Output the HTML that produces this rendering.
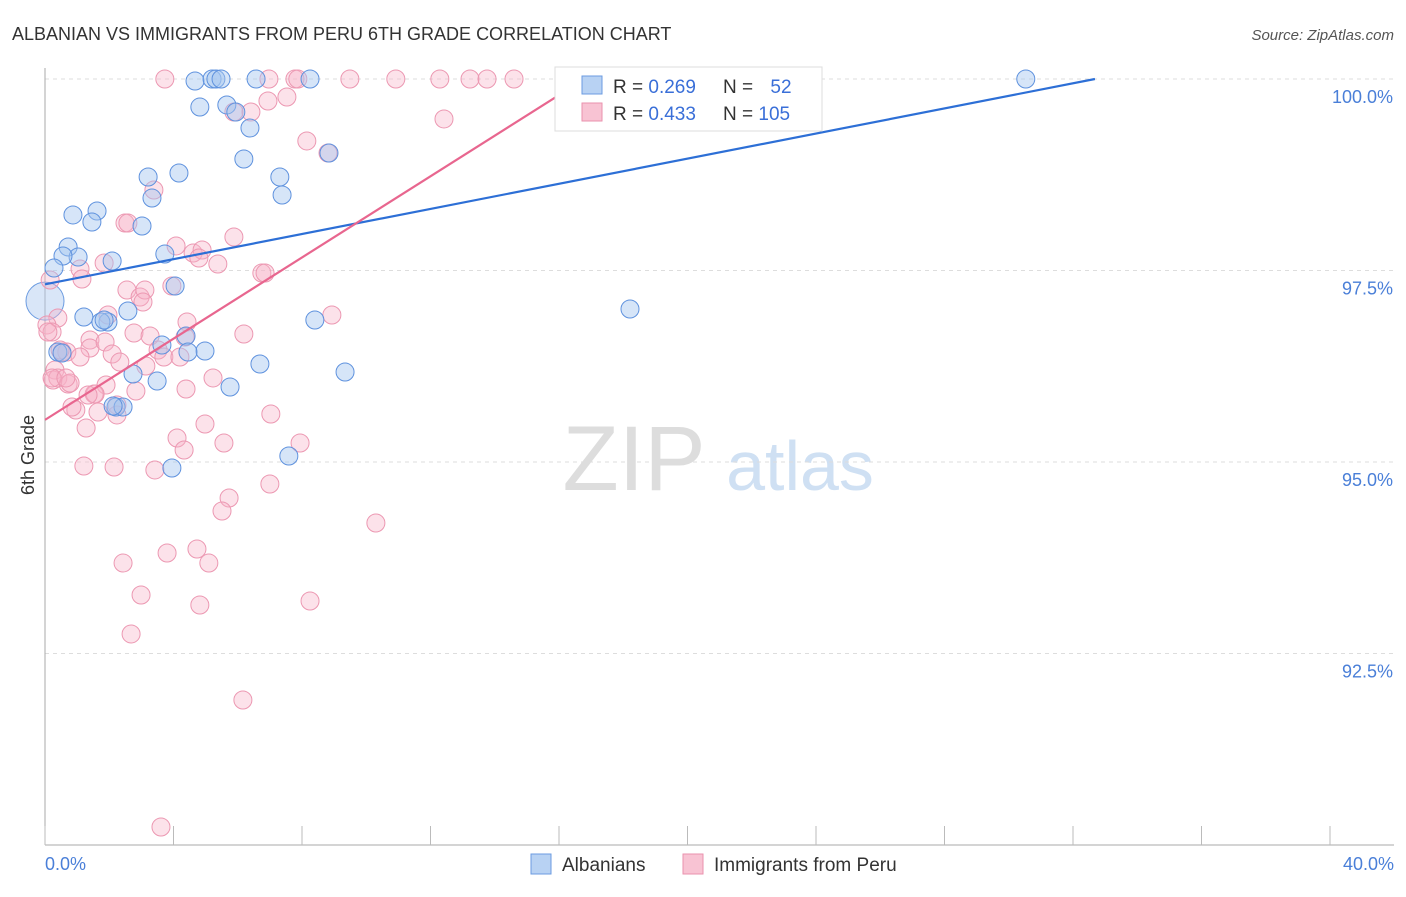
<!DOCTYPE html>
<html><head><meta charset="utf-8">
<style>
body{margin:0;background:#fff;font-family:"Liberation Sans",sans-serif;}
svg text{font-family:"Liberation Sans",sans-serif;}
</style></head>
<body>
<svg width="1406" height="892" viewBox="0 0 1406 892">
<text x="12" y="40" font-size="18" fill="#333">ALBANIAN VS IMMIGRANTS FROM PERU 6TH GRADE CORRELATION CHART</text>
<text x="1394" y="40" font-size="15" fill="#555" font-style="italic" text-anchor="end">Source: ZipAtlas.com</text>
<g>
<text x="634" y="490" font-size="92" fill="#ddd" text-anchor="middle" font-family="Liberation Serif">ZIP</text>
<text x="800" y="490" font-size="70" fill="#cfe0f3" text-anchor="middle">atlas</text>
</g>
<g id="grid"></g>
<g id="axes"></g>
<g id="pts"></g>
<g id="lines"></g>
<text transform="translate(34,455) rotate(-90)" font-size="18" fill="#333" text-anchor="middle">6th Grade</text>
<g>
<rect x="555" y="67" width="267" height="64" fill="#fff" stroke="#ddd"/>
<rect x="582" y="76" width="20" height="18" fill="#b8d2f3" stroke="#6b9be0"/>
<rect x="582" y="103" width="20" height="18" fill="#f8c3d3" stroke="#ea92ae"/>
<text x="613" y="93" font-size="19" fill="#333">R = <tspan fill="#3a6fd8">0.269</tspan></text>
<text x="723" y="93" font-size="19" fill="#333">N = <tspan fill="#3a6fd8" dx="12">52</tspan></text>
<text x="613" y="120" font-size="19" fill="#333">R = <tspan fill="#3a6fd8">0.433</tspan></text>
<text x="723" y="120" font-size="19" fill="#333">N = <tspan fill="#3a6fd8">105</tspan></text>
</g>
<g>
<rect x="531" y="854" width="20" height="20" fill="#b8d2f3" stroke="#6b9be0"/>
<text x="562" y="871" font-size="19" fill="#333">Albanians</text>
<rect x="683" y="854" width="20" height="20" fill="#f8c3d3" stroke="#ea92ae"/>
<text x="714" y="871" font-size="19" fill="#333">Immigrants from Peru</text>
</g>
</svg>
<script>
const xTicks=[0,4,8,12,16,20,24,28,32,36,40];
const yTicks=[92.5,95,97.5,100];
const yTickLabels=["92.5%","95.0%","97.5%","100.0%"];
const xEndLabels=["0.0%","40.0%"];
const bluePx=[[195,81],[212,79],[216,79],[221,79],[256,79],[310,79],[1026,79],[200,107],[227,105],[236,112],[250,128],[244,159],[329,153],[280,177],[282,195],[148,177],[179,173],[152,198],[73,215],[97,211],[92,222],[142,226],[68,247],[78,257],[63,256],[112,261],[54,268],[165,254],[175,286],[84,317],[108,322],[101,322],[128,311],[315,320],[630,309],[58,352],[186,336],[205,351],[162,345],[188,352],[133,374],[157,381],[230,387],[260,364],[345,372],[116,407],[123,407],[172,468],[289,456],[62,353],[104,320],[113,406]];
const pinkPx=[[165,79],[269,79],[295,79],[298,79],[350,79],[396,79],[440,79],[470,79],[487,79],[514,79],[571,79],[268,101],[287,97],[251,112],[234,112],[444,119],[307,141],[328,153],[154,190],[125,223],[128,223],[176,246],[193,253],[202,250],[199,258],[234,237],[218,264],[262,273],[265,273],[80,269],[82,279],[50,280],[104,263],[127,290],[140,297],[145,290],[143,302],[172,286],[58,318],[47,325],[52,332],[108,315],[134,333],[150,336],[187,322],[185,337],[244,334],[332,315],[90,340],[90,348],[105,342],[112,354],[120,362],[158,350],[164,357],[180,357],[146,366],[62,352],[67,352],[55,370],[53,380],[58,378],[68,384],[70,383],[80,357],[106,385],[136,391],[76,410],[72,407],[94,394],[95,394],[98,412],[117,405],[117,415],[186,389],[213,378],[271,414],[86,428],[205,424],[177,438],[184,450],[224,443],[300,443],[84,466],[114,467],[155,470],[270,484],[229,498],[222,511],[376,523],[123,563],[167,553],[197,549],[209,563],[141,595],[200,605],[310,601],[131,634],[243,700],[161,827],[52,378],[66,378],[88,395],[60,350],[48,332]];
// convert estimated reading positions to data values (x in %, y in %)
const blueX=bluePx.map(p=>+((p[0]-45)/32.13).toFixed(2));
const blueY=bluePx.map(p=>+(100-(p[1]-79)/76.6).toFixed(3));
const pinkX=pinkPx.map(p=>+((p[0]-45)/32.13).toFixed(2));
const pinkY=pinkPx.map(p=>+(100-(p[1]-79)/76.6).toFixed(3));
const blueTrend=[97.32,0.082];
const pinkTrend=[95.55,0.265];
const bigBlue=[0,97.1];

const X0=45,X1=1330,Y100=79,PXY=76.6;
const sx=v=>X0+v*(X1-X0)/40;
const sy=v=>Y100+(100-v)*PXY;
const NS="http://www.w3.org/2000/svg";
function mk(tag,attrs,parent){const e=document.createElementNS(NS,tag);for(const k in attrs)e.setAttribute(k,attrs[k]);parent.appendChild(e);return e;}
const grid=document.getElementById('grid'),axes=document.getElementById('axes'),pts=document.getElementById('pts'),lines=document.getElementById('lines');
yTicks.forEach((t,i)=>{
 const l=mk('line',{x1:X0,x2:1394,y1:sy(t),y2:sy(t),stroke:'#ddd','stroke-dasharray':'4,4'},grid);
 
 
 const tx=mk('text',{x:1393,y:sy(t)+24,'font-size':18,fill:'#4a7fd8','text-anchor':'end'},axes);
 tx.textContent=yTickLabels[i];
 
 
});
const ya=mk('line',{x1:X0,x2:X0,y1:68,y2:845,stroke:'#aaa'},axes);


const xa=mk('line',{x1:X0,x2:1394,y1:845,y2:845,stroke:'#aaa'},axes);


xTicks.forEach(t=>{
 const l=mk('line',{x1:sx(t),x2:sx(t),y1:826,y2:845,stroke:'#bbb'},axes);
 
 
});
[[0,'start',45],[40,'end',1394]].forEach((d,i)=>{
 const tx=mk('text',{x:d[2],y:870,'font-size':18,fill:'#4a7fd8','text-anchor':d[1]},axes);
 tx.textContent=xEndLabels[i];
 
 
});
const bb=mk('circle',{cx:sx(bigBlue[0]),cy:sy(bigBlue[1]),r:19,fill:'rgba(170,200,240,0.45)',stroke:'#6b9be0','stroke-width':1},pts);


pinkX.forEach((x,i)=>{
 const c=mk('circle',{cx:sx(x),cy:sy(pinkY[i]),r:9,fill:'rgba(246,178,200,0.38)',stroke:'#ec98b2','stroke-width':1},pts);
 
 
});
blueX.forEach((x,i)=>{
 const c=mk('circle',{cx:sx(x),cy:sy(blueY[i]),r:9,fill:'rgba(165,198,240,0.45)',stroke:'#5f92de','stroke-width':1},pts);
 
 
});
const bxEnd=(100-blueTrend[0])/blueTrend[1];
const bl=mk('line',{x1:sx(0),y1:sy(blueTrend[0]),x2:sx(bxEnd),y2:sy(100),stroke:'#2d6fd6','stroke-width':2.2},lines);


const pxEnd=(100.06-pinkTrend[0])/pinkTrend[1];
const pl=mk('line',{x1:sx(0),y1:sy(pinkTrend[0]),x2:sx(pxEnd),y2:sy(pinkTrend[0]+pinkTrend[1]*pxEnd),stroke:'#e8668f','stroke-width':2.2},lines);


</script>
</body></html>
